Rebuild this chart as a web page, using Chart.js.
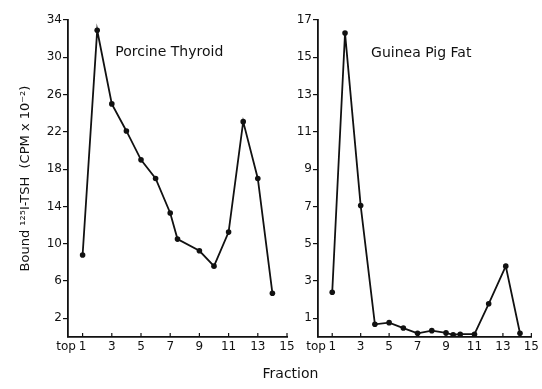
<!DOCTYPE html>
<html lang="en">
<head>
  <meta charset="UTF-8">
  <title>Bound 125I-TSH by fraction</title>
  <script src="https://cdn.jsdelivr.net/npm/chart.js"></script>
  <style>
    body { margin: 0; background: #fff; width: 542px; height: 389px; position: relative; overflow: hidden; }
    .box { position: absolute; top: 0; height: 389px; }
    #fraction { position: absolute; left: 0; width: 581px; top: 365px; text-align: center;
      font-family: "DejaVu Sans", sans-serif; font-size: 14px; color: #111; }
  </style>
</head>
<body>
  <div class="box" style="left:0;width:300px"><canvas id="thyroid" width="300" height="389"></canvas></div>
  <div class="box" style="left:290px;width:252px"><canvas id="fat" width="252" height="389"></canvas></div>
  <div id="fraction">Fraction</div>

  <script>
    // fraction numbers (x) and bound counts (CPM x 10^-2)
    const thyroidX = [1, 2, 3, 4, 5, 6, 7, 7.5, 9, 10, 11, 12, 13, 14];
    const thyroidY = [8.8, 32.9, 25.0, 22.1, 19.0, 17.0, 13.3, 10.5, 9.25, 7.6, 11.25, 23.1, 17.0, 4.7];

    const fatX = [1, 1.9, 3, 4, 5, 6, 7, 8, 9, 9.5, 10, 11, 12, 13.2, 14.2];
    const fatY = [2.4, 16.3, 7.05, 0.68, 0.77, 0.48, 0.2, 0.34, 0.22, 0.12, 0.15, 0.15, 1.78, 3.8, 0.2];

    const xTicks = [0, 1, 3, 5, 7, 9, 11, 13, 15];
    const thyroidYTicks = [2, 6, 10, 14, 18, 22, 26, 30, 34];
    const fatYTicks = [1, 3, 5, 7, 9, 11, 13, 15, 17];

    const FONT = "'DejaVu Sans', sans-serif";
    const INK = '#111';

    // small inward ticks on the x axis + the panel label
    const extras = {
      id: 'extras',
      afterDraw(chart, args, opts) {
        const ctx = chart.ctx;
        const xs = chart.scales.x, ys = chart.scales.y;
        ctx.save();
        ctx.strokeStyle = INK;
        ctx.lineWidth = 1.2;
        xTicks.forEach(v => {
          if (v === 0) return;
          const px = xs.getPixelForValue(v);
          ctx.beginPath();
          ctx.moveTo(px, chart.chartArea.bottom);
          ctx.lineTo(px, chart.chartArea.bottom - 4);
          ctx.stroke();
        });
        ctx.fillStyle = INK;
        ctx.font = '14px ' + FONT;
        ctx.textAlign = 'left';
        ctx.textBaseline = 'middle';
        ctx.fillText(opts.text, xs.getPixelForValue(opts.x), ys.getPixelForValue(opts.y));
        ctx.restore();
      }
    };

    function makeChart(id, xs, ys, yMax, yTicks, yWidth, pad, label, yTitle) {
      const pts = xs.map((x, i) => ({ x: x, y: ys[i] }));
      return new Chart(document.getElementById(id), {
        type: 'line',
        data: {
          datasets: [{
            data: pts,
            borderColor: INK,
            borderWidth: 1.8,
            pointRadius: 2.8,
            pointBackgroundColor: INK,
            pointBorderWidth: 0,
            tension: 0
          }]
        },
        options: {
          responsive: false,
          animation: false,
          layout: { padding: pad },
          plugins: { legend: { display: false }, tooltip: { enabled: false }, extras: label },
          scales: {
            x: {
              type: 'linear', min: 0, max: 15,
              afterBuildTicks: s => { s.ticks = xTicks.map(v => ({ value: v })); },
              afterFit: s => { s.height = 52; },
              grid: { drawOnChartArea: false, drawTicks: false },
              border: { color: INK, width: 1.8 },
              ticks: {
                autoSkip: false, maxRotation: 0, padding: 3, color: INK,
                font: { family: FONT, size: 12 },
                callback: v => v === 0 ? 'top ' : v
              }
            },
            y: {
              min: 0, max: yMax,
              afterBuildTicks: s => { s.ticks = yTicks.map(v => ({ value: v })); },
              afterFit: s => { s.width = yWidth; },
              grid: { drawOnChartArea: false, tickLength: 5, color: INK, lineWidth: 1.2 },
              border: { color: INK, width: 1.8 },
              ticks: { padding: 1, color: INK, font: { family: FONT, size: 12 } },
              title: yTitle
            }
          }
        },
        plugins: [extras]
      });
    }

    makeChart('thyroid', thyroidX, thyroidY, 34, thyroidYTicks, 68,
      { top: 20, right: 13, left: 0, bottom: 0 },
      { text: 'Porcine Thyroid', x: 3.24, y: 30.5 },
      { display: true, text: 'Bound \u00b9\u00b2\u2075I-TSH  (CPM x 10\u207b\u00b2)', color: INK,
        font: { family: FONT, size: 13 }, padding: { top: 18, bottom: 0 } });

    makeChart('fat', fatX, fatY, 17, fatYTicks, 28,
      { top: 20, right: 8, left: 0, bottom: 0 },
      { text: 'Guinea Pig Fat', x: 3.73, y: 15.2 },
      { display: false });
  </script>
</body>
</html>
